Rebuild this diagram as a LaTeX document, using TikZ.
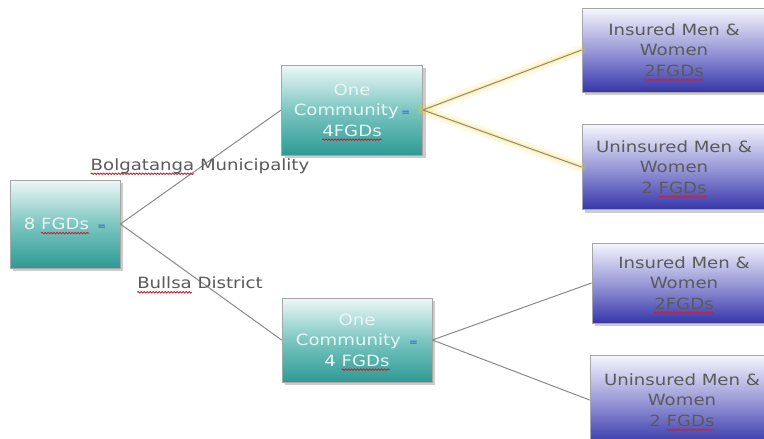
\documentclass[tikz,border=0pt]{standalone}
\usepackage{fontspec}
\setmainfont{DejaVu Sans}[FakeStretch=1.17]
\usetikzlibrary{shadows,decorations.pathmorphing}
\definecolor{tealtop}{HTML}{EEF8F7}
\definecolor{tealmid}{HTML}{7CC6C1}
\definecolor{tealbot}{HTML}{2E9A94}
\definecolor{bluetop}{HTML}{F6F6FD}
\definecolor{bluemid}{HTML}{9A9AD8}
\definecolor{bluebot}{HTML}{3636AA}
\definecolor{txtgrey}{HTML}{5A5A5A}
\definecolor{paletxt}{HTML}{E8F6F4}
\definecolor{linegrey}{HTML}{8A8A8A}
\definecolor{sqred}{HTML}{D02030}
\definecolor{icon}{HTML}{2F6FD0}
\newsavebox{\sqbox}
\newlength{\sqlen}
\newcommand{\sq}[1]{\sbox{\sqbox}{#1}\setlength{\sqlen}{\wd\sqbox}\rlap{\tikz[overlay]\draw[draw=sqred, line width=0.9pt, decorate, decoration={snake, amplitude=0.7pt, segment length=3pt}] (0pt,-3.5pt) -- (\sqlen,-3.5pt);}\usebox{\sqbox}}
\newcommand{\ico}{\,{\fontsize{9}{9}\selectfont\textcolor{icon}{\textbf{=}}}}
\tikzset{
  base/.style={rectangle, draw=gray!70, line width=0.8pt, align=center,
    font=\fontsize{15.5}{20.5}\selectfont, inner sep=2pt,
    drop shadow={shadow xshift=3pt, shadow yshift=-3pt, opacity=0.4, fill=gray}},
  tealbox/.style={base, top color=tealtop, bottom color=tealbot, middle color=tealmid, text=paletxt},
  bluebox/.style={base, top color=bluetop, bottom color=bluebot, middle color=bluemid, text=txtgrey},
  conn/.style={draw=linegrey, line width=1pt},
  glow/.style={draw=yellow!70!orange, line width=10pt, opacity=0.12, line cap=round},
  glowin/.style={draw=yellow!70!orange, line width=4pt, opacity=0.2, line cap=round},
  lab/.style={text=txtgrey, font=\fontsize{15.5}{18}\selectfont}
}
\begin{document}
\begin{tikzpicture}[x=1pt,y=-1pt]
\useasboundingbox (0,0) rectangle (764,439);
\fill[white] (0,0) rectangle (764,439);

\node[tealbox, minimum width=110pt, minimum height=88pt] (root) at (65,224) {8 \sq{FGDs}\ \ico};
\node[tealbox, minimum width=141pt, minimum height=90pt] (c1) at (352,110) {One\\Community\ico\\\sq{4FGDs}};
\node[tealbox, minimum width=150pt, minimum height=84pt] (c2) at (357,340) {One\\Community\ \ico\\4 \sq{FGDs}};

\node[bluebox, minimum width=184pt, minimum height=84pt] (l1) at (674,50) {Insured Men \&\\Women\\\sq{2FGDs}};
\node[bluebox, minimum width=184pt, minimum height=85pt] (l2) at (674,167) {Uninsured Men \&\\Women\\2 \sq{FGDs}};
\node[bluebox, minimum width=184pt, minimum height=80pt] (l3) at (684,283) {Insured Men \&\\Women\\\sq{2FGDs}};
\node[bluebox, minimum width=184pt, minimum height=90pt] (l4) at (682,400) {Uninsured Men \&\\Women\\2 \sq{FGDs}};

\path[glow] (c1.east) -- (l1.west);
\path[glow] (c1.east) -- (l2.west);
\path[glowin] (c1.east) -- (l1.west);
\path[glowin] (c1.east) -- (l2.west);

\draw[conn] (root.east) -- (c1.west);
\draw[conn] (root.east) -- (c2.west);
\draw[conn] (c1.east) -- (l1.west);
\draw[conn] (c1.east) -- (l2.west);
\draw[conn] (c2.east) -- (l3.west);
\draw[conn] (c2.east) -- (l4.west);

\node[lab] (lb1) at (200,166) {\sq{Bolgatanga} Municipality};
\node[lab] (lb2) at (200,283) {\sq{Bullsa} District};
\end{tikzpicture}
\end{document}
